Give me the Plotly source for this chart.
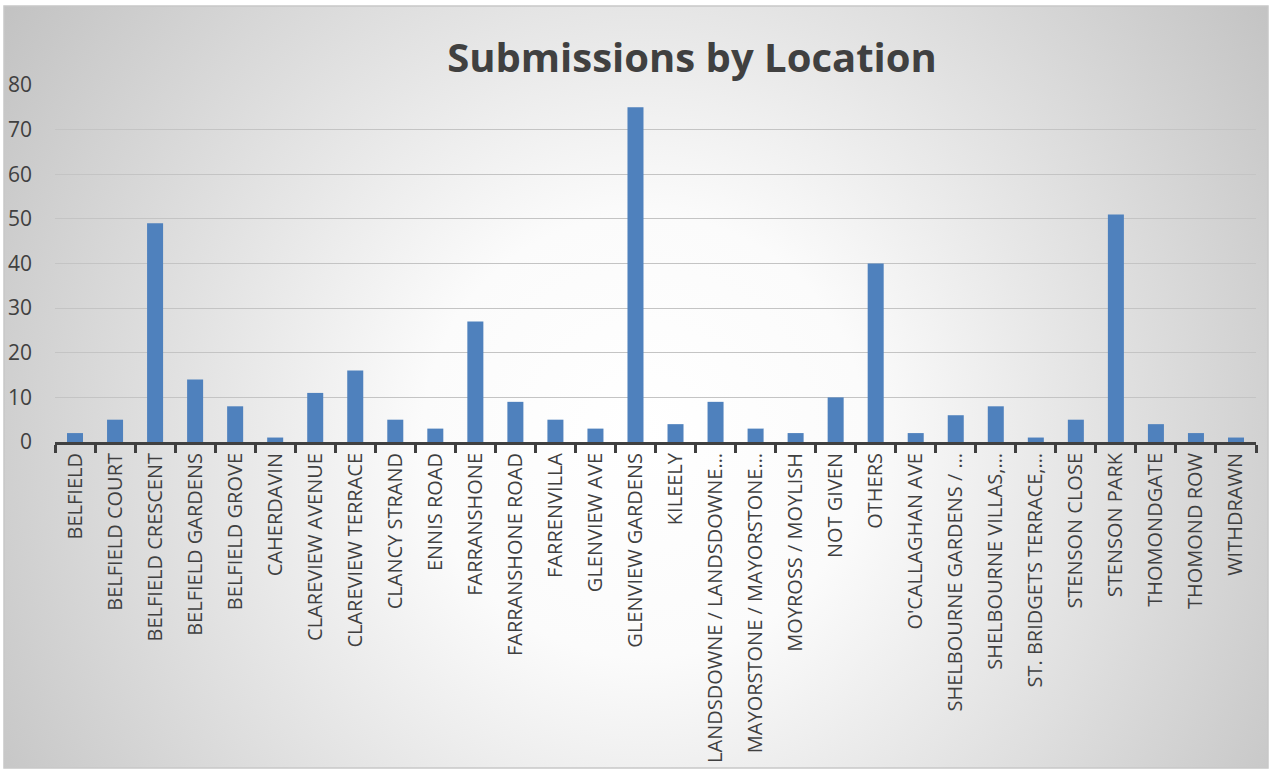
import base64
import plotly.graph_objects as go

categories = [
    "BELFIELD", "BELFIELD COURT", "BELFIELD CRESCENT", "BELFIELD GARDENS",
    "BELFIELD GROVE", "CAHERDAVIN", "CLAREVIEW AVENUE", "CLAREVIEW TERRACE",
    "CLANCY STRAND", "ENNIS ROAD", "FARRANSHONE", "FARRANSHONE ROAD",
    "FARRENVILLA", "GLENVIEW AVE", "GLENVIEW GARDENS", "KILEELY",
    "LANDSDOWNE / LANDSDOWNE…", "MAYORSTONE / MAYORSTONE…", "MOYROSS / MOYLISH",
    "NOT GIVEN", "OTHERS", "O'CALLAGHAN AVE", "SHELBOURNE GARDENS / …",
    "SHELBOURNE VILLAS,…", "ST. BRIDGETS TERRACE,…", "STENSON CLOSE",
    "STENSON PARK", "THOMONDGATE", "THOMOND ROW", "WITHDRAWN",
]
values = [2, 5, 49, 14, 8, 1, 11, 16, 5, 3, 27, 9, 5, 3, 75, 4, 9, 3, 2, 10,
          40, 2, 6, 8, 1, 5, 51, 4, 2, 1]
y_ticks = [0, 10, 20, 30, 40, 50, 60, 70, 80]

W, H = 1270, 769
L, R, T, B = 55, 14, 85, 327
pw, ph = W - L - R, H - T - B

svg = (
    '<svg xmlns="http://www.w3.org/2000/svg" width="1264" height="762" '
    'viewBox="0 0 1264 762" preserveAspectRatio="none">'
    '<defs><radialGradient id="g" gradientUnits="userSpaceOnUse" cx="640" cy="430" r="790">'
    '<stop offset="0" stop-color="#ffffff"/>'
    '<stop offset="0.28" stop-color="#fbfbfb"/>'
    '<stop offset="1" stop-color="#c0c0c0"/>'
    '</radialGradient></defs>'
    '<rect x="0" y="0" width="1264" height="762" fill="url(#g)"/></svg>'
)
uri = "data:image/svg+xml;base64," + base64.b64encode(svg.encode()).decode()


def px2x(p):
    return (p - L) / pw


def py2y(p):
    return (H - B - p) / ph


fig = go.Figure(go.Bar(
    x=categories, y=values, marker=dict(color="#4F81BD", line=dict(width=0)),
    hoverinfo="x+y",
))

fig.add_layout_image(dict(
    source=uri, xref="paper", yref="paper",
    x=px2x(4), y=py2y(6), sizex=(1268 - 4) / pw, sizey=(768 - 6) / ph,
    sizing="stretch", xanchor="left", yanchor="top", layer="below",
))
fig.add_shape(type="rect", xref="paper", yref="paper",
              x0=px2x(4), x1=px2x(1268), y0=py2y(768), y1=py2y(6),
              line=dict(color="#c8c8c8", width=1.5), fillcolor="rgba(0,0,0,0)",
              layer="above")

fig.update_layout(
    width=W, height=H,
    margin=dict(l=L, r=R, t=T, b=B, pad=0, autoexpand=False),
    paper_bgcolor="white", plot_bgcolor="rgba(0,0,0,0)",
    bargap=0.6,
    showlegend=False,
    title=dict(text="<b>Submissions by Location</b>", x=692 / W, xanchor="center",
               y=1 - 58 / H, yanchor="middle",
               font=dict(family="Open Sans", size=40, color="#404040")),
    font=dict(family="Open Sans", color="#404040"),
    xaxis=dict(
        type="category", tickangle=-90, tickson="boundaries",
        ticks="outside", ticklen=8, tickwidth=3, tickcolor="#404040",
        showline=True, linecolor="#404040", linewidth=3,
        tickfont=dict(family="Open Sans", size=20, color="#404040"),
        showgrid=False, range=[-0.5, len(categories) - 0.5], automargin=False,
    ),
    yaxis=dict(
        range=[0, 80], tickvals=y_ticks, showgrid=True, gridcolor="#c4c4c4",
        gridwidth=1, zeroline=False, showline=False, ticks="",
        tickfont=dict(family="Open Sans", size=21, color="#404040"),
        ticklabelstandoff=22, automargin=False,
    ),
)

fig.write_html(
    "out.html",
    config={"displayModeBar": False},
    post_script="document.body.style.margin='0';document.body.style.overflow='hidden';",
)
